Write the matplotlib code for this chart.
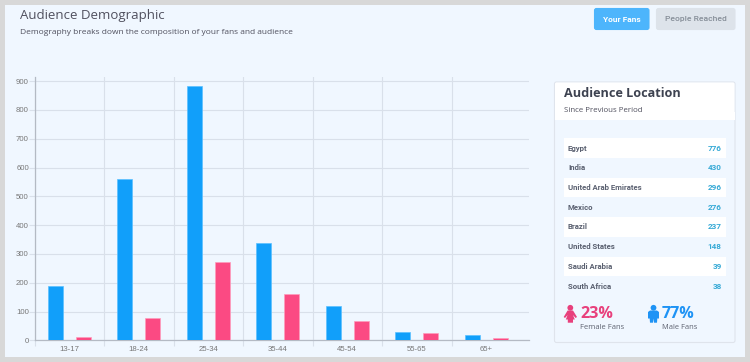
import matplotlib
matplotlib.use('Agg')
import matplotlib.pyplot as plt
from matplotlib.patches import Rectangle, FancyBboxPatch, Circle, Polygon

W = 750
H = 362

age_groups = ['13-17', '18-24', '25-34', '35-44', '45-54', '55-65', '65+']
your_fans = [187, 560, 884, 337, 118, 28, 20]
female_fans = [12, 76, 273, 162, 67, 24, 7]
y_ticks = [0, 100, 200, 300, 400, 500, 600, 700, 800, 900]

countries = ['Egypt', 'India', 'United Arab Emirates', 'Mexico', 'Brazil',
             'United States', 'Saudi Arabia', 'South Africa']
country_values = [776, 430, 296, 276, 237, 148, 39, 38]

female_pct = '23%'
male_pct = '77%'

BLUE = '#119ffa'
PINK = '#fb4a83'
PANEL = '#f0f7ff'
GRID = '#d9e0ea'
AXIS = '#b4bac4'

fig = plt.figure(figsize=(W / 100, H / 100), dpi=100, facecolor='#d8d8d8')

# page furniture, in pixel coords
bg = fig.add_axes([0, 0, 1, 1], zorder=0)
bg.set_xlim(0, W)
bg.set_ylim(H, 0)
bg.axis('off')

bg.add_patch(Rectangle((5, 5), 740, 352, fc=PANEL, ec='none'))

bg.text(19.5, 16, 'Audience Demographic', fontsize=9.55, family='Open Sans',
        color='#50505e', va='center')
bg.text(19.5, 32, 'Demography breaks down the composition of your fans and audience',
        fontsize=6.07, family='Open Sans', color='#50505e', va='center')

# buttons
bg.add_patch(FancyBboxPatch((594.5, 8.5), 54.5, 21, boxstyle='round,pad=0,rounding_size=2',
                            fc='#4db5fc', ec='#4db5fc', lw=0.8))
bg.text(622, 19.3, 'Your Fans', fontsize=6.0, family='Roboto', weight='bold',
        color='white', ha='center', va='center')
bg.add_patch(FancyBboxPatch((656.5, 8.5), 78.5, 21, boxstyle='round,pad=0,rounding_size=2',
                            fc='#dde3ea', ec='#dde3ea', lw=0.8))
bg.text(695.5, 19.3, 'People Reached', fontsize=6.1, family='Roboto', weight='medium',
        color='#868e98', ha='center', va='center')

# location card
bg.add_patch(FancyBboxPatch((554.5, 82), 180.5, 260.5, boxstyle='round,pad=0,rounding_size=2',
                            fc=PANEL, ec='#dfe4ec', lw=0.8))
bg.add_patch(FancyBboxPatch((555, 82.5), 179.5, 37.5, boxstyle='round,pad=0,rounding_size=1.5',
                            fc='white', ec='none'))
bg.add_patch(Rectangle((555, 112), 179.5, 8, fc='white', ec='none'))
bg.text(564, 93.3, 'Audience Location', fontsize=9.1, family='Open Sans', weight='bold',
        color='#3d4250', va='center')
bg.text(564, 110.3, 'Since Previous Period', fontsize=5.7, family='Open Sans',
        color='#50505e', va='center')

row_top = 138.3
row_h = 19.7
for i, (name, val) in enumerate(zip(countries, country_values)):
    if i % 2 == 0:
        bg.add_patch(Rectangle((563.7, row_top + i * row_h), 162.3, row_h, fc='white', ec='none'))
    yc = row_top + i * row_h + row_h / 2
    bg.text(568, yc, name, fontsize=5.6, family='Roboto', weight='bold',
            color='#5a6070', va='center')
    bg.text(721.7, yc, str(val), fontsize=5.9, family='Roboto', weight='bold',
            color='#35a9d6', ha='right', va='center')

# female icon
bg.add_patch(Circle((570.3, 307.8), 2.9, fc='#e8407c', ec='none'))
bg.add_patch(Polygon([(567.6, 310.5), (573, 310.5), (577, 317), (575.6, 318), (573, 315),
                      (574.8, 319.5), (573, 319.5), (573, 322.7), (567.8, 322.7), (567.8, 319.5),
                      (565.8, 319.5), (567.6, 315), (565, 318), (563.7, 317)],
                     fc='#e8407c', ec='none'))
bg.text(580, 313.7, female_pct, fontsize=11.6, family='Open Sans', weight='bold',
        color='#e8407c', va='center')
bg.text(580, 327.3, 'Female Fans', fontsize=5.5, family='Open Sans', color='#5d6270', va='center')

# male icon
bg.add_patch(Circle((653.5, 307.8), 2.9, fc='#1e93f5', ec='none'))
bg.add_patch(Polygon([(650, 310.5), (657, 310.5), (659, 312), (659, 318.5), (657.3, 318.5),
                      (657, 322.7), (654, 322.7), (653.5, 318.5), (653, 322.7), (650, 322.7),
                      (649.7, 318.5), (648, 318.5), (648, 312)],
                     fc='#1e93f5', ec='none'))
bg.text(661.5, 313.7, male_pct, fontsize=11.6, family='Open Sans', weight='bold',
        color='#1e93f5', va='center')
bg.text(661.5, 327.3, 'Male Fans', fontsize=5.4, family='Open Sans', color='#5d6270', va='center')

# bar chart
left, right, top, bottom = 34.5, 528.7, 77, 340.3
ax = fig.add_axes([left / W, 1 - bottom / H, (right - left) / W, (bottom - top) / H], zorder=1)
ax.patch.set_alpha(0)

x = list(range(len(age_groups)))
ax.bar([i - 0.2 for i in x], your_fans, 0.217, color=BLUE, edgecolor='#5cc0ff', linewidth=0.5, zorder=3)
ax.bar([i + 0.2 for i in x], female_fans, 0.217, color=PINK, edgecolor='#ff9dbd', linewidth=0.5, zorder=3)

ax.set_xlim(-0.5, 6.61)
ax.set_ylim(0, 263.3 / 0.288)
ax.set_yticks(y_ticks)
ax.set_xticks([i - 0.5 for i in x])
ax.set_xticklabels([])
ax.tick_params(axis='y', length=4, width=0.8, color=GRID, labelsize=5.6, labelcolor='#777777', pad=0)
ax.tick_params(axis='x', length=4, width=0.8, color=GRID)
for lab in ax.get_yticklabels():
    lab.set_family('Liberation Sans')

for i, name in zip(x, age_groups):
    ax.annotate(name, (i, 0), xytext=(0, -6.9), textcoords='offset points', ha='center', va='center',
                fontsize=5.6, family='Liberation Sans', color='#777777')

ax.grid(True, color=GRID, linewidth=0.8, zorder=0)
ax.set_axisbelow(True)
ax.spines['top'].set_visible(False)
ax.spines['right'].set_visible(False)
ax.spines['left'].set_color(AXIS)
ax.spines['bottom'].set_color(AXIS)
ax.spines['left'].set_linewidth(0.9)
ax.spines['bottom'].set_linewidth(0.9)

plt.savefig('out.png', dpi=100, facecolor=fig.get_facecolor())
